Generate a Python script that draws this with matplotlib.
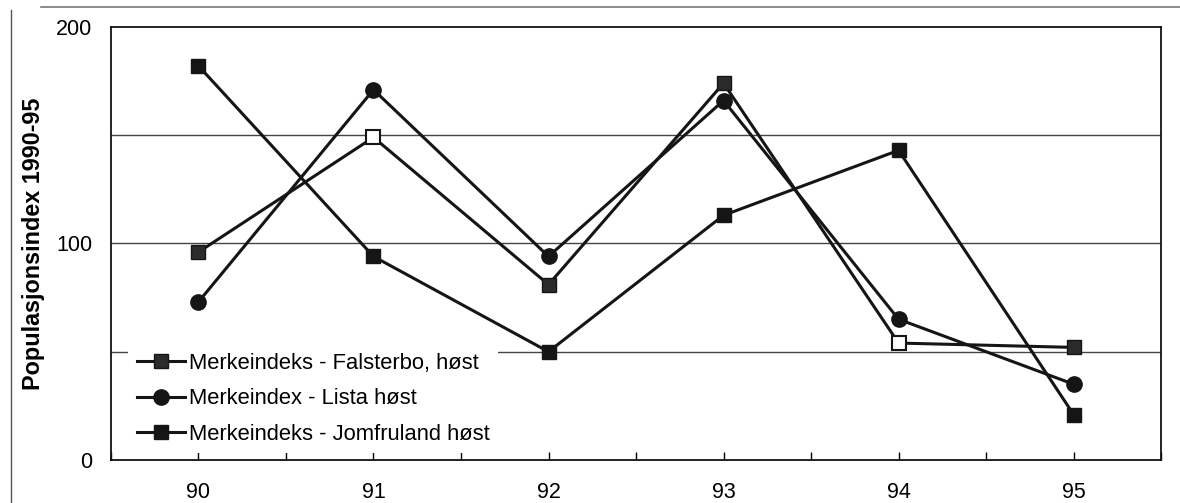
import matplotlib
matplotlib.use("Agg")
import matplotlib.pyplot as plt
from matplotlib.lines import Line2D

plt.rcParams['font.family'] = ['Liberation Sans', 'DejaVu Sans']

years = ["90", "91", "92", "93", "94", "95"]
falsterbo = [96, 149, 81, 174, 54, 52]
lista = [73, 171, 94, 166, 65, 35]
jomfruland = [182, 94, 50, 113, 143, 21]

labels = ["Merkeindeks - Falsterbo, høst",
          "Merkeindex - Lista høst",
          "Merkeindeks - Jomfruland høst"]

fig = plt.figure(figsize=(11.8, 5.03), dpi=100)
ax = fig.add_axes([0.094, 0.0855, 0.89, 0.861])

x = range(len(years))

# gridlines
for yv in [50, 100, 150]:
    ax.axhline(yv, color="#444444", lw=1.0, zorder=1)

lw = 2.2
ms = 10
l1, = ax.plot(x, falsterbo, color="#151515", lw=lw, marker="s", ms=ms,
              markerfacecolor="#2b2b2b", markeredgecolor="#151515",
              markevery=[0, 2, 3, 5], zorder=3)
# the 91 and 94 points appear as open squares in the original
ax.plot(x, falsterbo, color="none", lw=0, marker="s", ms=ms,
        markerfacecolor="white", markeredgecolor="#151515", markeredgewidth=1.5,
        markevery=[1, 4], zorder=4)
l2, = ax.plot(x, lista, color="#151515", lw=lw, marker="o", ms=ms + 1,
              markerfacecolor="#151515", zorder=3)
l3, = ax.plot(x, jomfruland, color="#151515", lw=lw, marker="s", ms=ms,
              markerfacecolor="#151515", zorder=3)

ax.set_xlim(-0.5, 5.5)
ax.set_ylim(0, 200)

ax.set_xticks(list(x))
ax.set_xticklabels(years)
ax.set_xticks([i + 0.5 for i in range(-1, 6)], minor=True)
ax.set_yticks([0, 100, 200])
ax.set_yticks([50, 150], minor=True)

ax.tick_params(axis="x", which="both", direction="in", length=6, width=1,
               labelsize=15.5, pad=16)
ax.tick_params(axis="y", which="both", direction="out", length=0,
               labelsize=15.5, pad=13.5)

for s in ax.spines.values():
    s.set_linewidth(1.3)
    s.set_color("#111111")

ax.set_ylabel("Populasjonsindex 1990-95", fontsize=16.8, fontweight="bold",
              labelpad=8)

leg = ax.legend([l1, l2, l3], labels, loc="lower left",
                bbox_to_anchor=(0.006, -0.01), fontsize=15.8,
                frameon=True, framealpha=1, facecolor="white",
                edgecolor="none", fancybox=False, handlelength=2.2,
                handletextpad=0.15, labelspacing=0.65, borderpad=0.4)
leg.set_zorder(5)

# scan page border
fig.add_artist(Line2D([0.035, 1.0], [0.986, 0.986], color="#777777", lw=1.2))
fig.add_artist(Line2D([0.009, 0.009], [0.0, 0.98], color="#555555", lw=1.0))

fig.savefig("out.png", dpi=100)
plt.close(fig)
